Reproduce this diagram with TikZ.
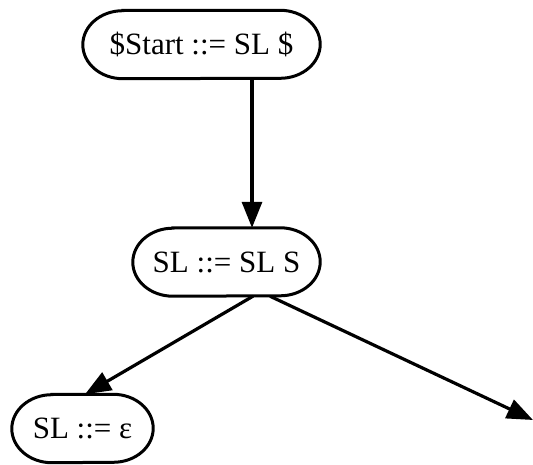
\documentclass[tikz,border=0pt]{standalone}
\usepackage{fontspec}
\setmainfont{Liberation Serif}
\usepackage{tikz}
\usetikzlibrary{shapes,arrows,arrows.meta,positioning,calc}

\begin{document}
\begin{tikzpicture}[
    x=1pt, y=1pt,
    box/.style={inner sep=0pt, minimum height=68pt, align=center, font=\fontsize{31}{36}\selectfont},
    outline/.style={line width=3pt},
    arrow/.style={-{Triangle[length=26pt, width=20pt]}, line width=3.2pt}
]
    \useasboundingbox (0,0) rectangle (533,464);

    \node[box, minimum width=237pt] (start) at (201.5,419.5) {\$Start ::= SL \$};
    \node[box, minimum width=187pt] (slsl) at (226.5,202) {SL ::= SL S};
    \node[box, minimum width=141pt] (slnil) at (82.5,35.5) {SL ::= ε};
    \coordinate (offpage) at (533,44);

    % graphviz-like rounded outlines
    \foreach \n in {start,slsl,slnil}
        \draw[outline] ([xshift=40pt]\n.north west) -- ([xshift=-40pt]\n.north east)
            arc[start angle=90, end angle=-90, x radius=40pt, y radius=34pt]
            -- ([xshift=40pt]\n.south west)
            arc[start angle=270, end angle=90, x radius=40pt, y radius=34pt] -- cycle;

    \draw[arrow] ([xshift=50.5pt]start.south) -- ([xshift=25.5pt]slsl.north);
    \draw[arrow] ([xshift=26.5pt]slsl.south) -- ([xshift=2.5pt]slnil.north);
    \draw[arrow] ([xshift=43.5pt]slsl.south) -- (offpage);
\end{tikzpicture}
\end{document}
